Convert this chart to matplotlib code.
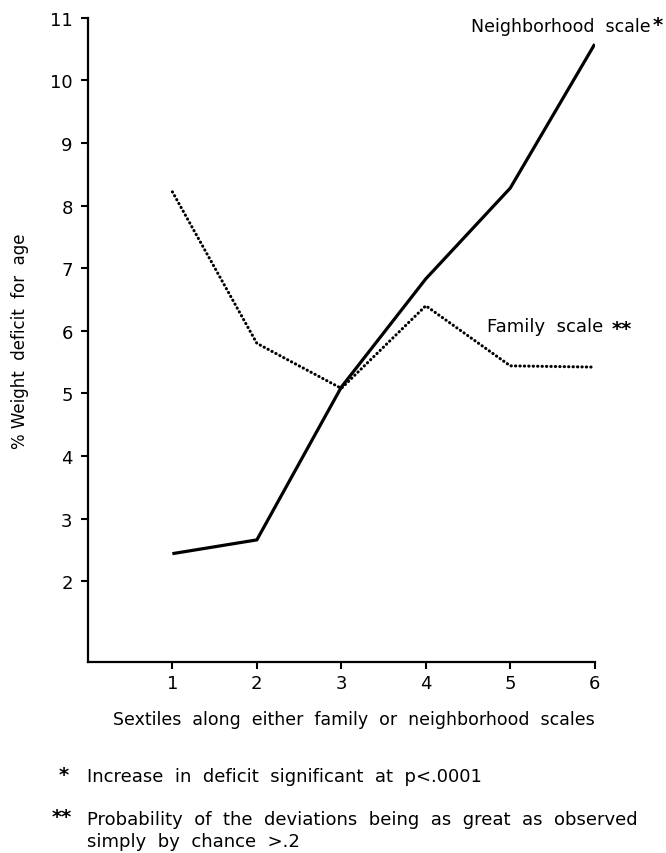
import matplotlib
matplotlib.use("Agg")
import matplotlib.pyplot as plt

# sextile positions along each scale
sextiles = [1, 2, 3, 4, 5, 6]
# % weight deficit for age
neighborhood_deficit = [2.44, 2.66, 5.1, 6.83, 8.28, 10.58]
family_deficit = [8.22, 5.8, 5.08, 6.4, 5.44, 5.42]

y_ticks = [2, 3, 4, 5, 6, 7, 8, 9, 10, 11]

plt.rcParams['font.family'] = ['DejaVu Sans']

fig = plt.figure(figsize=(6.66, 8.54), dpi=100)
ax = fig.add_axes([0.132, 0.2237, 0.761, 0.7543])

ax.plot(sextiles, neighborhood_deficit, color='black', linewidth=2.3,
        solid_capstyle='butt', solid_joinstyle='round')
ax.plot(sextiles, family_deficit, color='black', linewidth=2.2,
        linestyle=(0, (0.1, 1.35)), dash_capstyle='round')

ax.set_xlim(0, 6)
ax.set_ylim(0.71, 11)
ax.set_xticks(sextiles)
ax.set_yticks(y_ticks)
ax.tick_params(direction='out', length=5, width=1.5, labelsize=13, pad=4)
ax.tick_params(axis='y', pad=6)

for side in ['top', 'right']:
    ax.spines[side].set_visible(False)
for side in ['left', 'bottom']:
    ax.spines[side].set_linewidth(1.6)

ax.set_ylabel('% Weight  deficit  for  age', fontsize=12, labelpad=15)
ax.set_xlabel('Sextiles  along  either  family  or  neighborhood  scales',
              fontsize=12.5, labelpad=14)
ax.xaxis.set_label_coords(0.525, -0.075)

# series labels
ax.text(6.66, 10.72, 'Neighborhood  scale', fontsize=12.5, ha='right', va='bottom')
ax.text(6.68, 10.74, '*', fontsize=14, ha='left', va='bottom', weight='bold')
ax.text(4.73, 6.08, 'Family  scale', fontsize=13, ha='left', va='center')
ax.text(6.2, 6.03, '**', fontsize=14, ha='left', va='center', weight='bold')

# footnotes
fig.text(0.088, 0.092, '*', fontsize=14, ha='left', va='center', weight='bold')
fig.text(0.131, 0.09, 'Increase  in  deficit  significant  at  p<.0001',
         fontsize=13, ha='left', va='center')
fig.text(0.078, 0.043, '**', fontsize=14, ha='left', va='center', weight='bold')
fig.text(0.131, 0.04, 'Probability  of  the  deviations  being  as  great  as  observed',
         fontsize=13, ha='left', va='center')
fig.text(0.131, 0.014, 'simply  by  chance  >.2', fontsize=13, ha='left', va='center')

fig.savefig('out.png', dpi=100, facecolor='white')
